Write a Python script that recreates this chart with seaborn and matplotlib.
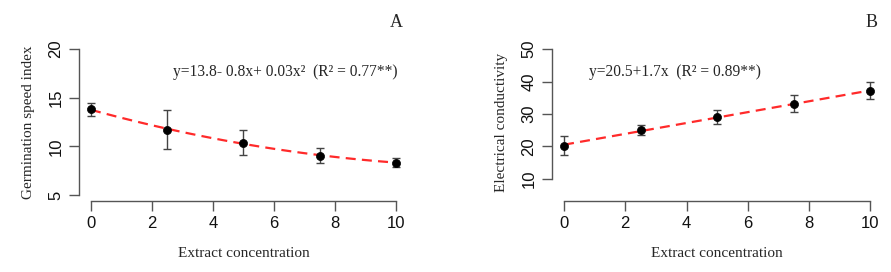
import numpy as np
import pandas as pd
import matplotlib
matplotlib.use("Agg")
import matplotlib.pyplot as plt
import seaborn as sns

# ---- data ----
conc = [0, 2.5, 5, 7.5, 10]
gsi_mean = [13.8, 11.7, 10.4, 9.05, 8.35]
gsi_err = [0.7, 2.0, 1.25, 0.75, 0.45]
ec_mean = [20.2, 25.1, 29.0, 33.1, 37.1]
ec_err = [2.9, 1.5, 2.2, 2.6, 2.6]

xticks = [0, 2, 4, 6, 8, 10]
a_yticks = [5, 10, 15, 20]
b_yticks = [10, 20, 30, 40, 50]
eq_a = "y=13.8- 0.8x+ 0.03x\u00b2  (R\u00b2 = 0.77**)"
eq_b = "y=20.5+1.7x  (R\u00b2 = 0.89**)"
xlabel = "Extract concentration"
a_ylabel = "Germination speed index"
b_ylabel = "Electrical conductivity"

sns.set_style("white")
plt.rcParams["font.family"] = ["Liberation Sans", "DejaVu Sans"]

fig = plt.figure(figsize=(8.91, 2.72), dpi=100)
W, H = 891, 272

def axes_px(l, r, t, b):
    return fig.add_axes([l / W, 1 - b / H, (r - l) / W, (b - t) / H])

axA = axes_px(78.8, 408.2, 43.2, 201)
axB = axes_px(551.8, 882.6, 43.2, 201)

serif = ["Liberation Serif", "DejaVu Serif"]
spine_col = "#555555"

def draw(ax, y, err, order, ylim, yticks, ylabel, eq, eqx, letter):
    df = pd.DataFrame({"x": conc, "y": y})
    sns.regplot(data=df, x="x", y="y", order=order, ci=None, scatter=False, ax=ax,
                line_kws=dict(color="#ff2a2a", lw=1.6, ls=(0, (4.5, 2.8))))
    ax.errorbar(conc, y, yerr=err, fmt="none", ecolor="#444444", elinewidth=1.0,
                capsize=3, capthick=1.0, zorder=3)
    sns.scatterplot(data=df, x="x", y="y", ax=ax, color="black", s=34,
                    edgecolor="black", linewidth=0.5, zorder=4)
    ax.set_xlim(-0.4, 10.4)
    ax.set_ylim(*ylim)
    ax.set_xticks(xticks)
    ax.set_yticks(yticks)
    for s in ["top", "right"]:
        ax.spines[s].set_visible(False)
    for s in ["left", "bottom"]:
        ax.spines[s].set_color(spine_col)
        ax.spines[s].set_linewidth(1.0)
    ax.spines["left"].set_bounds(yticks[0], yticks[-1])
    ax.spines["bottom"].set_bounds(0, 10)
    ax.tick_params(axis="both", direction="out", length=7, width=1.0, color=spine_col,
                   labelsize=12, labelcolor="#111111", left=True, bottom=True, pad=4)
    for lab in ax.get_yticklabels():
        lab.set_rotation(90)
        lab.set_va("center")
    ax.set_xlabel(xlabel, family=serif, fontsize=11, labelpad=11)
    ax.set_ylabel(ylabel, family=serif, fontsize=11, labelpad=10)
    ax.text(eqx, 0.817, eq, transform=ax.transAxes, family=serif, fontsize=11.2,
            ha="left", va="center")
    ax.text(0.965, 1.13, letter, transform=ax.transAxes, family=serif, fontsize=13,
            ha="center", va="center")

draw(axA, gsi_mean, gsi_err, 2, (4.4, 20.6), a_yticks, a_ylabel, eq_a, 0.287, "A")
draw(axB, ec_mean, ec_err, 1, (3.2, 51.8), b_yticks, b_ylabel, eq_b, 0.113, "B")

fig.savefig("out.png", dpi=100)
